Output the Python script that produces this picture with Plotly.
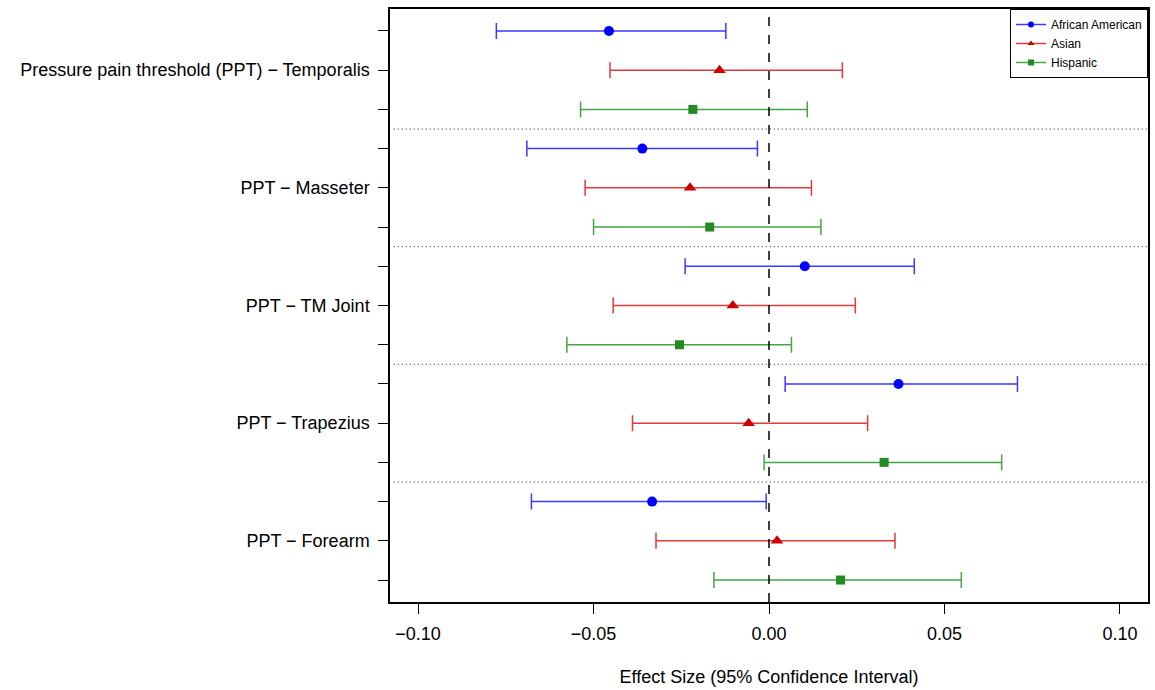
import plotly.graph_objects as go

groups = ["African American", "Asian", "Hispanic"]
outcomes = ["Pressure pain threshold (PPT) − Temporalis", "PPT − Masseter",
            "PPT − TM Joint", "PPT − Trapezius", "PPT − Forearm"]

# estimates and CI bounds per group, per outcome (top to bottom)
aa_est = [-0.0456, -0.0361, 0.0102, 0.0369, -0.0333]
aa_lo = [-0.0777, -0.0690, -0.0239, 0.0046, -0.0677]
aa_hi = [-0.0123, -0.0033, 0.0414, 0.0708, -0.0008]

as_est = [-0.0141, -0.0225, -0.0103, -0.0058, 0.0023]
as_lo = [-0.0453, -0.0524, -0.0444, -0.0389, -0.0322]
as_hi = [0.0209, 0.0121, 0.0246, 0.0281, 0.0359]

hi_est = [-0.0217, -0.0169, -0.0255, 0.0328, 0.0204]
hi_lo = [-0.0537, -0.0500, -0.0576, -0.0014, -0.0157]
hi_hi = [0.0109, 0.0148, 0.0064, 0.0663, 0.0548]

x_ticks = [-0.10, -0.05, 0.00, 0.05, 0.10]
x_tick_labels = ["−0.10", "−0.05", "0.00", "0.05", "0.10"]

series = [
    (groups[0], aa_est, aa_lo, aa_hi, "#0000FF", "#3a3aff", "circle", 10),
    (groups[1], as_est, as_lo, as_hi, "#CD0000", "#e03a3a", "triangle-up", 11),
    (groups[2], hi_est, hi_lo, hi_hi, "#228B22", "#45a545", "square", 9),
]

FONT = "Liberation Sans, Arial, Helvetica, sans-serif"
fig = go.Figure()

n_out = len(outcomes)
for gi, (name, est, lo, hi, mcol, lcol, sym, msz) in enumerate(series):
    ys = [oi * 3 + gi + 1 for oi in range(n_out)]
    fig.add_trace(go.Scatter(
        x=est, y=ys, mode="markers",
        marker=dict(color=mcol, symbol=sym, size=msz),
        error_x=dict(type="data", symmetric=False,
                     array=[h - e for h, e in zip(hi, est)],
                     arrayminus=[e - l for e, l in zip(est, lo)],
                     color=lcol, thickness=1.5, width=8),
        showlegend=False, hoverinfo="skip"))
    fig.add_trace(go.Scatter(
        x=[None], y=[None], mode="lines+markers", name=name,
        line=dict(color=lcol, width=1.5),
        marker=dict(color=mcol, symbol=sym, size=6)))

n_rows = n_out * 3
tickvals = list(range(1, n_rows + 1))
ticktext = [outcomes[(v - 1) // 3] + " " if (v - 1) % 3 == 1 else "" for v in tickvals]

shapes = []
for k in range(1, n_out):
    yy = k * 3 + 0.5
    shapes.append(dict(type="line", xref="paper", yref="y", x0=0.005, x1=1, y0=yy, y1=yy,
                       line=dict(color="#222222", width=1, dash="1px,3px")))
shapes.append(dict(type="line", xref="x", yref="paper", x0=0, x1=0, y0=0, y1=1,
                   line=dict(color="black", width=1.5, dash="dash")))

fig.update_layout(
    width=1155, height=690,
    margin=dict(l=390, r=5, t=9, b=88),
    paper_bgcolor="white", plot_bgcolor="white",
    font=dict(family=FONT, size=18, color="black"),
    shapes=shapes,
    legend=dict(x=1, y=1, xanchor="right", yanchor="top",
                bordercolor="black", borderwidth=1, bgcolor="white",
                font=dict(size=12), tracegroupgap=0, itemwidth=30),
    xaxis=dict(range=[-0.108, 0.108], tickvals=x_ticks, ticktext=x_tick_labels,
               ticks="outside", ticklen=10, tickwidth=1.2, tickcolor="black",
               showline=True, linecolor="black", linewidth=1.5, mirror=True,
               showgrid=False, zeroline=False, tickfont=dict(size=18),
               ticklabelstandoff=5,
               title=dict(text="Effect Size (95% Confidence Interval)", standoff=27,
                          font=dict(size=18))),
    yaxis=dict(range=[n_rows + 0.56, 0.44], tickvals=tickvals, ticktext=ticktext,
               ticks="outside", ticklen=10, tickwidth=1.2, tickcolor="black",
               showline=True, linecolor="black", linewidth=1.5, mirror=True,
               showgrid=False, zeroline=False, tickfont=dict(size=18)),
)

fig.write_html("out.html")
